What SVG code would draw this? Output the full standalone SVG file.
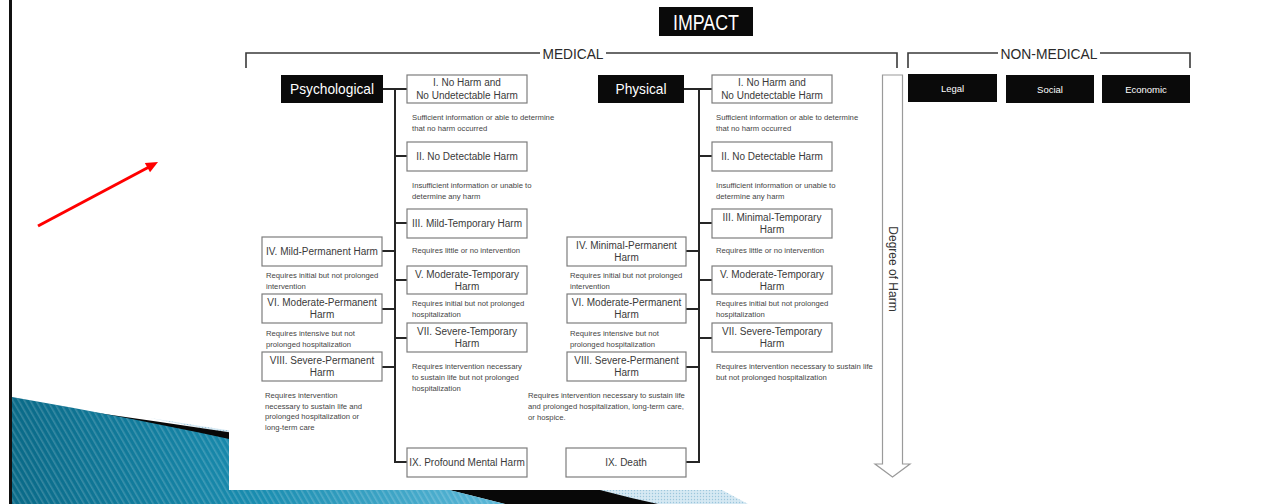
<svg xmlns="http://www.w3.org/2000/svg" width="1284" height="504" viewBox="0 0 1284 504">
  <defs>
    <style>
      .bx{fill:#fff;stroke:#7d7d7d;stroke-width:1.2}
      .bt{font-family:"Liberation Sans",Arial,sans-serif;font-size:10px;fill:#3a3a3a;text-anchor:middle}
      .ds{font-family:"Liberation Sans",Arial,sans-serif;font-size:7.7px;fill:#454545}
      .blk{fill:#0a0a0a}
      .wt{font-family:"Liberation Sans",Arial,sans-serif;fill:#fff;text-anchor:middle}
      .hd{font-family:"Liberation Sans",Arial,sans-serif;font-size:15px;fill:#2a2a2a;text-anchor:middle}
      .cn{stroke:#262626;stroke-width:2;fill:none}
      .br{stroke:#3a3a3a;stroke-width:1.6;fill:none}
    </style>
    <linearGradient id="teal" x1="0" y1="0" x2="1" y2="0">
      <stop offset="0" stop-color="#0a6a88"/>
      <stop offset="0.5" stop-color="#1a8db0"/>
      <stop offset="1" stop-color="#5cb8d8"/>
    </linearGradient>
    <pattern id="stripes" width="5" height="5" patternUnits="userSpaceOnUse" patternTransform="rotate(-30)">
      <rect width="1.6" height="5" fill="#ffffff" fill-opacity="0.18"/>
    </pattern>
    <pattern id="dots" width="3" height="3" patternUnits="userSpaceOnUse">
      <rect width="3" height="3" fill="#d6e9f3"/>
      <circle cx="1.5" cy="1.5" r="0.7" fill="#9cc6dc"/>
    </pattern>
  </defs>

  <!-- slide background -->
  <rect width="1284" height="504" fill="#ffffff"/>
  <rect x="9" y="0" width="3" height="504" fill="#111"/>

  <!-- bottom swoosh -->
  <g id="swoosh">
    <path d="M150 418 Q 420 462 722 490 L 748 504 L 590 504 Z" fill="url(#dots)"/>
    <path d="M70 409 Q 330 446 600 490 Q 630 498 658 504 L 505 504 Q 250 440 70 411 Z" fill="#080808"/>
    <path d="M12 397 Q 250 438 505 504 L 12 504 Z" fill="url(#teal)"/>
    <path d="M12 397 Q 250 438 505 504 L 12 504 Z" fill="url(#stripes)"/>
  </g>

  <!-- picture area -->
  <rect x="229" y="0" width="1055" height="490" fill="#ffffff"/>

  <!-- red pointer -->
  <g id="pointer">
    <line x1="38" y1="226" x2="149" y2="167" stroke="#ff0000" stroke-width="3"/>
    <polygon points="158,162 150,172.3 144.8,163" fill="#ff0000"/>
  </g>

  <!-- title -->
  <g id="impact">
    <rect class="blk" x="659" y="7" width="94" height="29"/>
    <text class="wt" x="706" y="30" font-size="22" textLength="66" lengthAdjust="spacingAndGlyphs">IMPACT</text>
  </g>

  <!-- section brackets -->
  <g id="medical">
    <path class="br" d="M246 68 V53 H540 M606 53 H897 V68"/>
    <text class="hd" x="573" y="58.5" textLength="61" lengthAdjust="spacingAndGlyphs">MEDICAL</text>
  </g>
  <g id="non-medical">
    <path class="br" d="M908 68 V53 H998 M1100 53 H1190 V68"/>
    <text class="hd" x="1049" y="58.5" textLength="97" lengthAdjust="spacingAndGlyphs">NON-MEDICAL</text>
  </g>

  <g id="legal"><rect class="blk" x="908" y="74" width="89" height="28"/><text class="wt" x="952.5" y="91.5" font-size="9.5">Legal</text></g>
  <g id="social"><rect class="blk" x="1006" y="75" width="88" height="28"/><text class="wt" x="1050" y="92.5" font-size="9.5">Social</text></g>
  <g id="economic"><rect class="blk" x="1102" y="75" width="88" height="28"/><text class="wt" x="1146" y="92.5" font-size="9.5">Economic</text></g>

  <!-- degree-of-harm arrow -->
  <g id="degree">
    <path d="M882.5 75 H902.5 V464 H910 L892.5 477 L875 464 H882.5 Z" fill="#fff" stroke="#9a9a9a" stroke-width="1.2"/>
    <text transform="translate(888.5 269) rotate(90)" font-family="Liberation Sans, Arial, sans-serif" font-size="12" fill="#333" text-anchor="middle">Degree of Harm</text>
  </g>

  <!-- connectors -->
  <g id="connectors">
    <path class="cn" d="M383 89 H407 M395 89 V462 H407 M395 156 H407 M395 223 H407 M395 280 H407 M395 338 H407 M382 251 H395 M382 309 H395 M382 367 H395"/>
    <path class="cn" d="M684 89 H712 M699 89 V462 H686 M699 156 H712 M699 223 H712 M699 280 H712 M699 338 H712 M686 251 H699 M686 309 H699 M686 367 H699"/>
  </g>

  <!-- psychological branch -->
  <g id="psychological"><rect class="blk" x="281" y="75" width="102" height="28"/><text class="wt" x="332" y="94" font-size="15" textLength="84" lengthAdjust="spacingAndGlyphs">Psychological</text></g>

  <g id="psy-1">
    <rect class="bx" x="407" y="75" width="120" height="28"/>
    <text class="bt" x="467" y="86">I. No Harm and</text>
    <text class="bt" x="467" y="99">No Undetectable Harm</text>
    <text class="ds" x="412" y="120">Sufficient information or able to determine</text>
    <text class="ds" x="412" y="131">that no harm occurred</text>
  </g>
  <g id="psy-2">
    <rect class="bx" x="407" y="142" width="120" height="29"/>
    <text class="bt" x="467" y="160">II. No Detectable Harm</text>
    <text class="ds" x="412" y="188">Insufficient information or unable to</text>
    <text class="ds" x="412" y="199">determine any harm</text>
  </g>
  <g id="psy-3">
    <rect class="bx" x="407" y="209" width="120" height="29"/>
    <text class="bt" x="467" y="227">III. Mild-Temporary Harm</text>
    <text class="ds" x="412" y="253">Requires little or no intervention</text>
  </g>
  <g id="psy-4">
    <rect class="bx" x="262" y="237" width="120" height="29"/>
    <text class="bt" x="322" y="255">IV. Mild-Permanent Harm</text>
    <text class="ds" x="266" y="278">Requires initial but not prolonged</text>
    <text class="ds" x="266" y="289">intervention</text>
  </g>
  <g id="psy-5">
    <rect class="bx" x="407" y="266" width="120" height="28"/>
    <text class="bt" x="467" y="278">V. Moderate-Temporary</text>
    <text class="bt" x="467" y="290">Harm</text>
    <text class="ds" x="412" y="306">Requires initial but not prolonged</text>
    <text class="ds" x="412" y="317">hospitalization</text>
  </g>
  <g id="psy-6">
    <rect class="bx" x="262" y="294" width="120" height="29"/>
    <text class="bt" x="322" y="306">VI. Moderate-Permanent</text>
    <text class="bt" x="322" y="318">Harm</text>
    <text class="ds" x="266" y="336">Requires intensive but not</text>
    <text class="ds" x="266" y="347">prolonged hospitalization</text>
  </g>
  <g id="psy-7">
    <rect class="bx" x="407" y="323" width="120" height="29"/>
    <text class="bt" x="467" y="335">VII. Severe-Temporary</text>
    <text class="bt" x="467" y="347">Harm</text>
    <text class="ds" x="412" y="369">Requires intervention necessary</text>
    <text class="ds" x="412" y="380">to sustain life but not prolonged</text>
    <text class="ds" x="412" y="391">hospitalization</text>
  </g>
  <g id="psy-8">
    <rect class="bx" x="262" y="352" width="120" height="29"/>
    <text class="bt" x="322" y="364">VIII. Severe-Permanent</text>
    <text class="bt" x="322" y="376">Harm</text>
    <text class="ds" x="265" y="398">Requires intervention</text>
    <text class="ds" x="265" y="409">necessary to sustain life and</text>
    <text class="ds" x="265" y="419">prolonged hospitalization or</text>
    <text class="ds" x="265" y="430">long-term care</text>
  </g>
  <g id="psy-9">
    <rect class="bx" x="407" y="448" width="120" height="29"/>
    <text class="bt" x="467" y="466">IX. Profound Mental Harm</text>
  </g>

  <!-- physical branch -->
  <g id="physical"><rect class="blk" x="598" y="75" width="86" height="28"/><text class="wt" x="641" y="94" font-size="15" textLength="51" lengthAdjust="spacingAndGlyphs">Physical</text></g>

  <g id="phy-1">
    <rect class="bx" x="712" y="75" width="120" height="28"/>
    <text class="bt" x="772" y="86">I. No Harm and</text>
    <text class="bt" x="772" y="99">No Undetectable Harm</text>
    <text class="ds" x="716" y="120">Sufficient information or able to determine</text>
    <text class="ds" x="716" y="131">that no harm occurred</text>
  </g>
  <g id="phy-2">
    <rect class="bx" x="712" y="142" width="120" height="29"/>
    <text class="bt" x="772" y="160">II. No Detectable Harm</text>
    <text class="ds" x="716" y="188">Insufficient information or unable to</text>
    <text class="ds" x="716" y="199">determine any harm</text>
  </g>
  <g id="phy-3">
    <rect class="bx" x="712" y="209" width="120" height="29"/>
    <text class="bt" x="772" y="221">III. Minimal-Temporary</text>
    <text class="bt" x="772" y="233">Harm</text>
    <text class="ds" x="716" y="253">Requires little or no intervention</text>
  </g>
  <g id="phy-4">
    <rect class="bx" x="567" y="237" width="119" height="29"/>
    <text class="bt" x="626.5" y="249">IV. Minimal-Permanent</text>
    <text class="bt" x="626.5" y="261">Harm</text>
    <text class="ds" x="570" y="278">Requires initial but not prolonged</text>
    <text class="ds" x="570" y="289">intervention</text>
  </g>
  <g id="phy-5">
    <rect class="bx" x="712" y="266" width="120" height="28"/>
    <text class="bt" x="772" y="278">V. Moderate-Temporary</text>
    <text class="bt" x="772" y="290">Harm</text>
    <text class="ds" x="716" y="306">Requires initial but not prolonged</text>
    <text class="ds" x="716" y="317">hospitalization</text>
  </g>
  <g id="phy-6">
    <rect class="bx" x="567" y="294" width="119" height="29"/>
    <text class="bt" x="626.5" y="306">VI. Moderate-Permanent</text>
    <text class="bt" x="626.5" y="318">Harm</text>
    <text class="ds" x="570" y="336">Requires intensive but not</text>
    <text class="ds" x="570" y="347">prolonged hospitalization</text>
  </g>
  <g id="phy-7">
    <rect class="bx" x="712" y="323" width="120" height="29"/>
    <text class="bt" x="772" y="335">VII. Severe-Temporary</text>
    <text class="bt" x="772" y="347">Harm</text>
    <text class="ds" x="716" y="369">Requires intervention necessary to sustain life</text>
    <text class="ds" x="716" y="380">but not prolonged hospitalization</text>
  </g>
  <g id="phy-8">
    <rect class="bx" x="567" y="352" width="119" height="29"/>
    <text class="bt" x="626.5" y="364">VIII. Severe-Permanent</text>
    <text class="bt" x="626.5" y="376">Harm</text>
    <text class="ds" x="528" y="398">Requires intervention necessary to sustain life</text>
    <text class="ds" x="528" y="409">and prolonged hospitalization, long-term care,</text>
    <text class="ds" x="528" y="420">or hospice.</text>
  </g>
  <g id="phy-9">
    <rect class="bx" x="566" y="448" width="120" height="29"/>
    <text class="bt" x="626" y="466">IX. Death</text>
  </g>
</svg>
